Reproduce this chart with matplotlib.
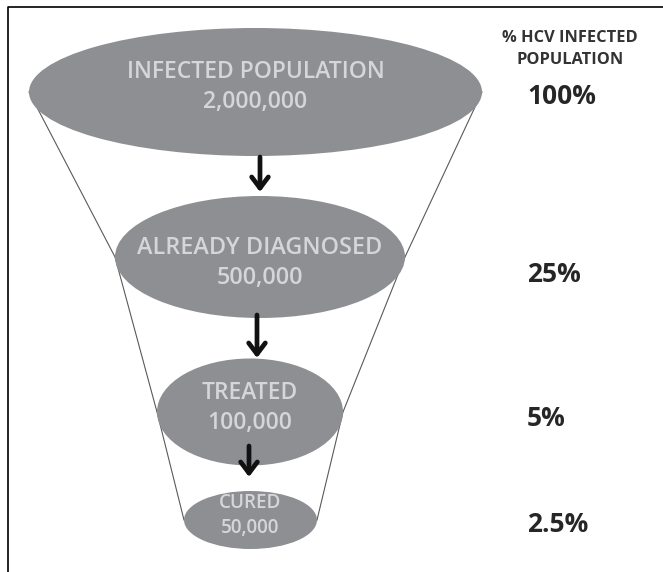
import matplotlib
matplotlib.use("Agg")
import matplotlib.pyplot as plt
from matplotlib.patches import Ellipse

# ---- data ----
stages = ["INFECTED POPULATION", "ALREADY DIAGNOSED", "TREATED", "CURED"]
counts = ["2,000,000", "500,000", "100,000", "50,000"]
percents = ["100%", "25%", "5%", "2.5%"]
header = "% HCV INFECTED\nPOPULATION"

# ---- layout (pixel space) ----
W, H = 663, 572
cx = [255.5, 260, 250, 250.5]
cy = [92, 257, 412, 520]
ew = [453, 290, 186, 133]
eh = [128, 122, 107, 58]
label_dy = [-20, -9, -19, -17]
count_dy = [10, 21, 11, 8]
label_fs = [16.5, 16.8, 16.5, 13.6]
pct_y = [96, 274, 418, 525]
arrows = [(260, 157, 192), (257, 315, 358), (249, 446, 477)]

fill = "#8e8f93"
txt_light = "#d6d6d8"
line_col = "#5a5a5a"
FONT = "Open Sans"

fig = plt.figure(figsize=(W / 100, H / 100), dpi=100)
ax = fig.add_axes([0, 0, 1, 1])
ax.set_xlim(0, W)
ax.set_ylim(H, 0)
ax.axis("off")

# frame (left and top)
ax.plot([7.5, 7.5, W], [H, 7, 7], color="black", lw=1.2, solid_capstyle="butt")

# funnel outline connecting ellipse tips
left_x = [c - w / 2 for c, w in zip(cx, ew)]
right_x = [c + w / 2 for c, w in zip(cx, ew)]
ax.plot(left_x, cy, color=line_col, lw=0.8, zorder=1)
ax.plot(right_x, cy, color=line_col, lw=0.8, zorder=1)

for i in range(len(stages)):
    ax.add_patch(Ellipse((cx[i], cy[i]), ew[i], eh[i], facecolor=fill,
                         edgecolor="none", zorder=2))
    ax.text(cx[i], cy[i] + label_dy[i], stages[i], ha="center", va="center",
            fontsize=label_fs[i], color=txt_light, family=FONT,
            fontweight="semibold", zorder=3)
    ax.text(cx[i], cy[i] + count_dy[i], counts[i], ha="center", va="center",
            fontsize=label_fs[i], color=txt_light, family=FONT,
            fontweight="semibold", zorder=3)
    ax.text(527, pct_y[i], percents[i], ha="left", va="center",
            fontsize=19, fontweight="bold", color="#262626", family=FONT)

for x, y0, y1 in arrows:
    ax.annotate("", xy=(x, y1), xytext=(x, y0),
                arrowprops=dict(arrowstyle="->,head_width=0.6,head_length=0.8",
                                lw=3.4, color="#111111", shrinkA=0, shrinkB=0),
                zorder=4)

ax.text(570, 49.5, header, ha="center", va="center", fontsize=11.8,
        fontweight="bold", color="#333333", family=FONT, linespacing=1.5)

fig.savefig("out.png", dpi=100)
